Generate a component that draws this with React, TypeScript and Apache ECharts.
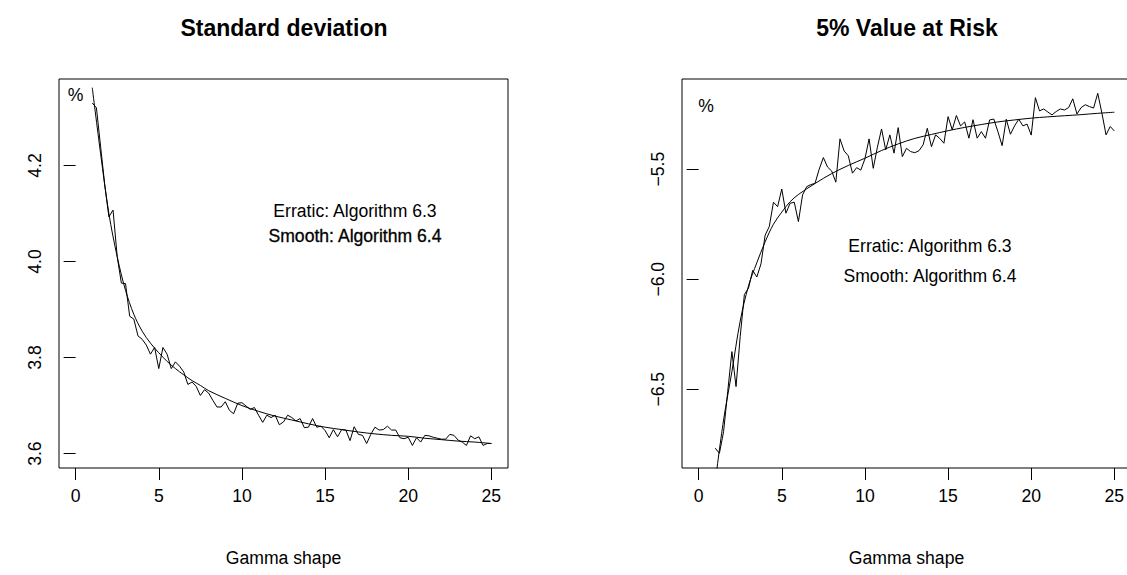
import React, { useEffect, useRef } from "react";
import * as echarts from "echarts";

const FONT = '"Liberation Sans", Arial, Helvetica, sans-serif';

// Gamma shape grid used by both panels (1 to 25 by 0.25)
const GAMMA_SHAPE: number[] = Array.from({ length: 97 }, (_, i) => 1 + i * 0.25);

// Standard deviation (%), erratic: Algorithm 6.3
const SD_ERRATIC = [
  4.33, 4.32, 4.24, 4.16, 4.093, 4.107, 4.01, 3.955, 3.954, 3.886, 3.88, 3.845, 3.838,
  3.826, 3.807, 3.821, 3.777, 3.821, 3.807, 3.777, 3.791, 3.782, 3.77, 3.744, 3.749,
  3.74, 3.721, 3.733, 3.726, 3.711, 3.697, 3.697, 3.708, 3.69, 3.683, 3.705, 3.706,
  3.699, 3.692, 3.696, 3.68, 3.665, 3.68, 3.675, 3.68, 3.66, 3.666, 3.68, 3.675, 3.668,
  3.673, 3.654, 3.655, 3.673, 3.655, 3.657, 3.648, 3.633, 3.65, 3.635, 3.65, 3.649,
  3.627, 3.656, 3.64, 3.638, 3.621, 3.64, 3.655, 3.649, 3.65, 3.657, 3.649, 3.649,
  3.633, 3.631, 3.634, 3.617, 3.633, 3.624, 3.638, 3.637, 3.634, 3.632, 3.63, 3.63,
  3.64, 3.638, 3.628, 3.624, 3.617, 3.637, 3.631, 3.635, 3.617, 3.621, 3.621,
];

// Standard deviation (%), smooth: Algorithm 6.4
const SD_SMOOTH_X = [1, 1.5, 2, 2.5, 3, 3.5, 4, 4.5, 5, 5.5, 6, 6.5, 7, 7.5, 8, 9, 10, 11, 12, 13, 14, 15, 16, 17, 18, 19, 20, 21, 22, 23, 24, 25];
const SD_SMOOTH = [
  4.362, 4.225, 4.1, 4.01, 3.94, 3.89, 3.855, 3.83, 3.81, 3.792, 3.777, 3.764, 3.752,
  3.742, 3.731, 3.715, 3.7, 3.688, 3.678, 3.67, 3.662, 3.655, 3.65, 3.645, 3.641,
  3.638, 3.636, 3.632, 3.629, 3.626, 3.624, 3.621,
];

// 5% Value at Risk (%), erratic: Algorithm 6.3
const VAR_ERRATIC = [
  -6.768, -6.791, -6.693, -6.51, -6.329, -6.488, -6.26, -6.07, -6.04, -5.96, -5.99,
  -5.93, -5.8, -5.76, -5.65, -5.67, -5.59, -5.7, -5.655, -5.65, -5.738, -5.617, -5.579,
  -5.57, -5.564, -5.5, -5.447, -5.49, -5.508, -5.559, -5.362, -5.417, -5.439, -5.518,
  -5.493, -5.504, -5.453, -5.362, -5.496, -5.4, -5.317, -5.412, -5.344, -5.427, -5.311,
  -5.443, -5.405, -5.42, -5.425, -5.416, -5.389, -5.314, -5.398, -5.344, -5.36, -5.382,
  -5.261, -5.321, -5.256, -5.303, -5.285, -5.359, -5.275, -5.359, -5.329, -5.359,
  -5.276, -5.272, -5.33, -5.393, -5.273, -5.341, -5.303, -5.273, -5.303, -5.295,
  -5.345, -5.175, -5.235, -5.226, -5.24, -5.253, -5.238, -5.226, -5.231, -5.22, -5.18,
  -5.249, -5.22, -5.207, -5.215, -5.222, -5.155, -5.245, -5.344, -5.306, -5.326,
];

// 5% Value at Risk (%), smooth: Algorithm 6.4
const VAR_SMOOTH_X = [1, 1.5, 2, 2.5, 3, 3.5, 4, 4.5, 5, 5.5, 6, 7, 8, 9, 10, 11, 12, 13, 14, 15, 16, 17, 18, 19, 20, 21, 22, 23, 24, 25];
const VAR_SMOOTH = [
  -6.92, -6.64, -6.42, -6.19, -6.03, -5.925, -5.83, -5.75, -5.695, -5.648, -5.615,
  -5.565, -5.52, -5.483, -5.45, -5.415, -5.385, -5.36, -5.342, -5.325, -5.31, -5.297,
  -5.285, -5.276, -5.268, -5.262, -5.257, -5.252, -5.246, -5.241,
];

const X_TICKS = [0, 5, 10, 15, 20, 25];
const SD_TICKS = [3.6, 3.8, 4.0, 4.2];
const VAR_TICKS = [-6.5, -6.0, -5.5];

const TITLES = ["Standard deviation", "5% Value at Risk"];
const X_NAME = "Gamma shape";
const NOTE_ERRATIC = "Erratic: Algorithm 6.3";
const NOTE_SMOOTH = "Smooth: Algorithm 6.4";

const pairs = (xs: number[], ys: number[]) => xs.map((x, i) => [x, ys[i]]);
const fmt = (v: number) => v.toFixed(1).replace("-", "\u2212");

export default function App() {
  const ref = useRef<HTMLDivElement>(null);

  useEffect(() => {
    document.body.style.margin = "0";
    document.body.style.overflow = "hidden";
    const chart = echarts.init(ref.current!, undefined, { renderer: "svg" });

    const txt = { color: "#000", fontFamily: FONT, fontSize: 17.6 };

    const grid = (left: number) => ({
      left,
      top: 79,
      width: 449,
      height: 389,
      show: true,
      borderColor: "#000",
      borderWidth: 1,
      backgroundColor: "transparent",
      containLabel: false,
      outerBoundsMode: "none",
    });

    const xAxis = (gridIndex: number) => ({
      type: "value",
      gridIndex,
      min: -1,
      max: 26,
      axisLine: { show: false },
      axisTick: { show: true, customValues: X_TICKS, length: 12, lineStyle: { color: "#000", width: 1 } },
      axisLabel: { customValues: X_TICKS, margin: 19, ...txt },
      splitLine: { show: false },
      name: X_NAME,
      nameLocation: "middle",
      nameGap: 81,
      nameTextStyle: { ...txt },
    });

    const yAxis = (gridIndex: number, min: number, max: number, ticks: number[]) => ({
      type: "value",
      gridIndex,
      min,
      max,
      axisLine: { show: false },
      axisTick: { show: true, customValues: ticks, length: 12, lineStyle: { color: "#000", width: 1 } },
      axisLabel: { customValues: ticks, margin: 15, rotate: 90, formatter: (v: number) => fmt(v), ...txt },
      splitLine: { show: false },
    });

    const line = (xi: number, data: number[][], smooth: boolean) => ({
      type: "line",
      xAxisIndex: xi,
      yAxisIndex: xi,
      data,
      symbol: "none",
      showSymbol: false,
      smooth: smooth ? 0.35 : false,
      lineStyle: { color: "#000", width: 1 },
      clip: true,
      silent: true,
    });

    const text = (x: number, y: number, t: string, extra: any = {}) => ({
      type: "text",
      x,
      y,
      silent: true,
      style: {
        text: t,
        fill: "#000",
        fontFamily: FONT,
        fontSize: 17.6,
        align: "center",
        verticalAlign: "middle",
        textAlign: "center",
        textVerticalAlign: "middle",
        ...extra,
      },
    });

    chart.setOption({
      animation: false,
      backgroundColor: "#fff",
      grid: [grid(59), grid(682)],
      xAxis: [xAxis(0), xAxis(1)],
      yAxis: [yAxis(0, 3.57, 4.38, SD_TICKS), yAxis(1, -6.858, -5.09, VAR_TICKS)],
      series: [
        line(0, pairs(GAMMA_SHAPE, SD_ERRATIC), false),
        line(0, pairs(SD_SMOOTH_X, SD_SMOOTH), true),
        line(1, pairs(GAMMA_SHAPE, VAR_ERRATIC), false),
        line(1, pairs(VAR_SMOOTH_X, VAR_SMOOTH), true),
      ],
      graphic: [
        text(284, 28, TITLES[0], { fontWeight: "bold", fontSize: 23 }),
        text(907, 28, TITLES[1], { fontWeight: "bold", fontSize: 23 }),
        text(75.5, 95, "%"),
        text(706, 106, "%"),
        text(355, 211, NOTE_ERRATIC),
        text(355, 236, NOTE_SMOOTH, { stroke: "#000", lineWidth: 0.3 }),
        text(930, 246, NOTE_ERRATIC),
        text(930, 276, NOTE_SMOOTH),
      ],
    });

    return () => chart.dispose();
  }, []);

  return <div ref={ref} style={{ position: "fixed", left: 0, top: 0, width: 1127, height: 575 }} />;
}
